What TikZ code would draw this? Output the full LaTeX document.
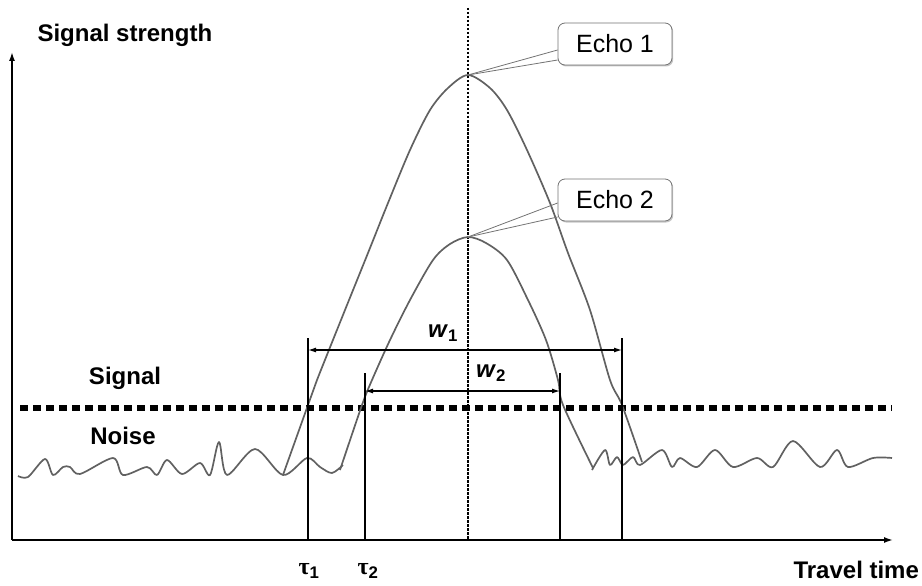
\documentclass[tikz,border=0pt]{standalone}
\usepackage{fontspec}
\setmainfont{Liberation Sans}
\newfontfamily\taufont{Liberation Serif}
\usetikzlibrary{arrows.meta,shadows}

\begin{document}
\begin{tikzpicture}[
  x=1pt, y=-1pt,
  font=\fontsize{24}{28}\selectfont\bfseries,
  >={Latex[length=9pt,width=6pt]},
  axis/.style={->, line width=1.6pt},
  wave/.style={draw=black!62, line width=1.7pt, line join=round},
  marker/.style={line width=2pt},
  span/.style={<->, line width=1.2pt, >={Latex[length=8pt,width=5pt]}},
  echolabel/.style={draw=black!55, fill=white, line width=0.8pt,
    rounded corners=7pt, font=\fontsize{25}{30}\selectfont, minimum width=114pt,
    minimum height=42pt,
    drop shadow={shadow xshift=1.2pt, shadow yshift=-1.5pt, fill=black!45}},
  pointer/.style={draw=black!55, line width=0.8pt}
]
  \useasboundingbox (0,0) rectangle (922,586);

  \coordinate (origin) at (12,540);
  \coordinate (ytip) at (12,52);
  \coordinate (xtip) at (893,540);
  \coordinate (peak1) at (468,75);
  \coordinate (peak2) at (468,237);

  \node[anchor=base west] (ylabel) at (34,42) {Signal strength};
  \node[anchor=base west] (xlabel) at (790,578) {Travel time};
  \node (signal) at (125,378) {Signal};
  \node (noise) at (123,436) {Noise};

  \draw[axis] (origin) -- (ytip);
  \draw[axis] (origin) -- (xtip);

  \draw[line width=1.5pt, dash pattern=on 2.5pt off 1.5pt] (468,8) -- (468,540);
  \draw[line width=6pt, dash pattern=on 8pt off 5pt] (20,408) -- (892,408);

  \draw[wave] plot[smooth, tension=0.5] coordinates {(18,476) (28,477) (45,459) (53,475)
    (63,467) (70,467) (80,474) (113,458) (123,475) (147,467) (157,475) (167,460) (182,474)
    (200,463) (210,475) (219,442) (227,475) (255,449) (283,475) (307,458) (320,467)
    (332,473) (343,465)};
  \draw[wave] plot[smooth, tension=0.5] coordinates {(592,470) (605,450) (610,465)
    (617,457) (623,465) (633,457) (640,465) (662,450) (672,467) (680,458) (697,467)
    (715,450) (733,467) (757,458) (773,467) (793,441) (820,467) (837,450) (848,467)
    (873,458) (892,458)};

  \draw[wave] plot[smooth, tension=0.5] coordinates {(283,475) (308,405) (317,380)
    (345,310) (368,253) (388,203) (410,150) (430,110) (448,88) (peak1) (490,88)
    (507,110) (527,150) (550,203) (568,253) (590,310) (610,380) (622,405) (642,462)};
  \draw[wave] plot[smooth, tension=0.5] coordinates {(340,470) (362,405) (372,380)
    (390,340) (410,300) (433,260) (450,244) (peak2) (486,243) (507,260) (528,300)
    (546,340) (558,380) (563,405) (593,468)};

  \coordinate (t1top) at (308,338);
  \coordinate (t1bot) at (308,540);
  \coordinate (t2top) at (365,373);
  \coordinate (t2bot) at (365,540);
  \coordinate (e2top) at (560,373);
  \coordinate (e2bot) at (560,540);
  \coordinate (e1top) at (622,338);
  \coordinate (e1bot) at (622,540);
  \draw[marker] (t1top) -- (t1bot);
  \draw[marker] (t2top) -- (t2bot);
  \draw[marker] (e2top) -- (e2bot);
  \draw[marker] (e1top) -- (e1bot);

  \coordinate (w1l) at (308,350);
  \coordinate (w1r) at (622,350);
  \coordinate (w2l) at (365,391);
  \coordinate (w2r) at (560,391);
  \draw[span] (w1l) -- (w1r);
  \draw[span] (w2l) -- (w2r);
  \node (w1) at (443,333) {\textit{w}\textsubscript{1}};
  \node (w2) at (491,373) {\textit{w}\textsubscript{2}};

  \node (tau1) at (309,571) {{\taufont\bfseries τ}\textsubscript{1}};
  \node (tau2) at (368,571) {{\taufont\bfseries τ}\textsubscript{2}};

  \node[echolabel] (echo1) at (615,44) {Echo 1};
  \node[echolabel] (echo2) at (615,200) {Echo 2};
  \draw[pointer] (peak1) -- ([yshift=-6pt]echo1.west);
  \draw[pointer] (peak1) -- ([yshift=-16pt]echo1.west);
  \draw[pointer] (peak2) -- ([yshift=-3pt]echo2.west);
  \draw[pointer] (peak2) -- ([yshift=-17pt]echo2.west);
\end{tikzpicture}
\end{document}
